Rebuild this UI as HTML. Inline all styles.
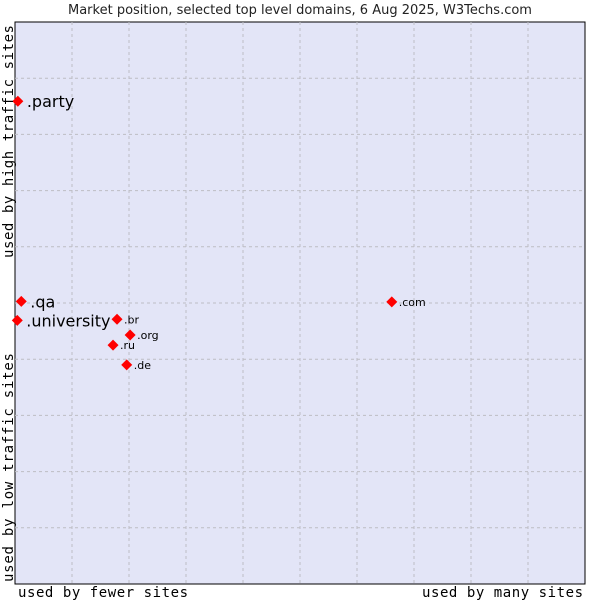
<!DOCTYPE html>
<html><head><meta charset="utf-8"><style>body{margin:0;background:#fff}svg{display:block}</style></head>
<body>
<svg id="c" width="600" height="600" xmlns="http://www.w3.org/2000/svg">
<text x="300" y="14" text-anchor="middle" font-family="DejaVu Sans, sans-serif" font-size="13" fill="#222">Market position, selected top level domains, 6 Aug 2025, W3Techs.com</text>
<rect x="15" y="22" width="570" height="562" fill="#e3e5f7" stroke="#000" stroke-width="1"/>
<g id="grid"></g>
<g id="pts"></g>
<text x="18" y="597" font-family="DejaVu Sans Mono, monospace" font-size="14" textLength="170" fill="#000">used by fewer sites</text>
<text x="583" y="597" text-anchor="end" font-family="DejaVu Sans Mono, monospace" font-size="14" textLength="161" fill="#000">used by many sites</text>
<text transform="translate(13,582) rotate(-90)" font-family="DejaVu Sans Mono, monospace" font-size="14" textLength="229" fill="#000">used by low traffic sites</text>
<text transform="translate(13,258) rotate(-90)" font-family="DejaVu Sans Mono, monospace" font-size="14" textLength="233" fill="#000">used by high traffic sites</text>
</svg>
<script>
const domains=[".party",".qa",".university",".br",".org",".ru",".de",".com"];
const xValues=[0.5,1.1,0.4,17.9,20.2,17.2,19.6,66.1];
const yValues=[85.9,50.3,46.9,47.1,44.3,42.5,39.0,50.2];
const bigLabel=[true,true,true,false,false,false,false,false];
const NS="http://www.w3.org/2000/svg";
const L=15,R=585,T=22,B=584;
const sx=v=>L+(R-L)*v/100, sy=v=>B-(B-T)*v/100;
const grid=document.getElementById('grid');
for(let i=1;i<10;i++){
  const v=document.createElementNS(NS,'line');
  v.setAttribute('x1',sx(i*10));v.setAttribute('x2',sx(i*10));v.setAttribute('y1',T);v.setAttribute('y2',B);
  v.setAttribute('stroke','#bdbdc4');v.setAttribute('stroke-dasharray','3,3');
  
  
  grid.appendChild(v);
  const h=document.createElementNS(NS,'line');
  h.setAttribute('y1',sy(i*10));h.setAttribute('y2',sy(i*10));h.setAttribute('x1',L);h.setAttribute('x2',R);
  h.setAttribute('stroke','#bdbdc4');h.setAttribute('stroke-dasharray','3,3');
  
  
  grid.appendChild(h);
}
const pts=document.getElementById('pts');
domains.forEach((d,i)=>{
  const x=sx(xValues[i]),y=sy(yValues[i]);
  const p=document.createElementNS(NS,'polygon');
  p.setAttribute('points',`${x-5.5},${y} ${x},${y-5.5} ${x+5.5},${y} ${x},${y+5.5}`);
  p.setAttribute('fill','#f00');
  
  
  pts.appendChild(p);
  const t=document.createElementNS(NS,'text');
  t.setAttribute('x',x+(bigLabel[i]?9:7));t.setAttribute('y',y+(bigLabel[i]?6:4));
  t.setAttribute('font-family','DejaVu Sans, sans-serif');
  t.setAttribute('font-size',bigLabel[i]?16:11);
  t.setAttribute('fill','#000');
  t.textContent=d;
  
  
  pts.appendChild(t);
});
</script>
</body></html>
